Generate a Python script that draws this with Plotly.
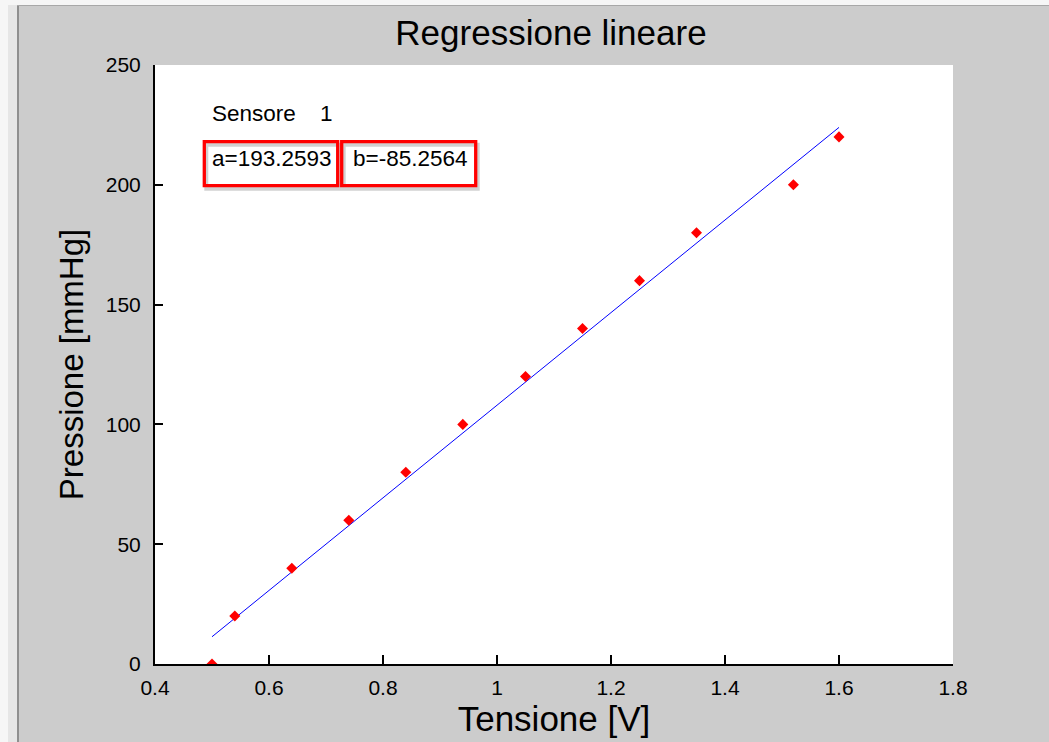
import plotly.graph_objects as go

# ---- data ----
tensione = [0.50, 0.54, 0.64, 0.74, 0.84, 0.94, 1.05, 1.15, 1.25, 1.35, 1.52, 1.60]
pressione = [0, 20, 40, 60, 80, 100, 120, 140, 160, 180, 200, 220]
coef_a = 193.2593
coef_b = -85.2564
sensore = 1
x_ticks = [0.4, 0.6, 0.8, 1.0, 1.2, 1.4, 1.6, 1.8]
y_ticks = [0, 50, 100, 150, 200, 250]

fit_x = [min(tensione), max(tensione)]
fit_y = [coef_a * v + coef_b for v in fit_x]

W, H = 1049, 742
L, R, T, B = 155, 953, 65, 664  # plot area in pixels

def px(x):
    return (x - L) / (R - L)

def py(y):
    return (B - y) / (B - T)

FONT = "Arial, 'Liberation Sans', sans-serif"

fig = go.Figure()
fig.add_trace(go.Scatter(x=fit_x, y=fit_y, mode="lines",
                         line=dict(color="#0000ff", width=1), hoverinfo="skip"))
fig.add_trace(go.Scatter(x=tensione, y=pressione, mode="markers",
                         marker=dict(symbol="diamond", size=8.5, color="#ff0000",
                                     line=dict(width=0))))

shapes = []
# window frame outside the gray figure
shapes.append(dict(type="rect", xref="paper", yref="paper", x0=px(0), x1=px(W), y0=py(0), y1=py(5),
                   fillcolor="#f6f6f6", line=dict(width=0), layer="below"))
shapes.append(dict(type="rect", xref="paper", yref="paper", x0=px(0), x1=px(8), y0=py(0), y1=py(H),
                   fillcolor="#f6f6f6", line=dict(width=0), layer="below"))
shapes.append(dict(type="rect", xref="paper", yref="paper", x0=px(8), x1=px(17), y0=py(5), y1=py(H),
                   fillcolor="#e6e6e6", line=dict(width=0), layer="below"))
shapes.append(dict(type="line", xref="paper", yref="paper", x0=px(18), x1=px(18), y0=py(6), y1=py(H),
                   line=dict(color="#8f8f8f", width=2), layer="below"))
shapes.append(dict(type="line", xref="paper", yref="paper", x0=px(17), x1=px(W), y0=py(5.5), y1=py(5.5),
                   line=dict(color="#a8a8a8", width=1), layer="below"))

# red highlight boxes with soft shadow
boxes = [(204.3, 337.7), (341.7, 475.7)]
by0, by1 = 141.7, 185.7
for (bx0, bx1) in boxes:
    shapes.append(dict(type="rect", xref="paper", yref="paper",
                       x0=px(bx0 + 2), x1=px(bx1 + 2), y0=py(by1 + 3), y1=py(by0 + 3),
                       line=dict(color="rgba(0,0,0,0.18)", width=4)))
for (bx0, bx1) in boxes:
    shapes.append(dict(type="rect", xref="paper", yref="paper",
                       x0=px(bx0), x1=px(bx1), y0=py(by1), y1=py(by0),
                       line=dict(color="#ff0000", width=3.3)))

TXT = dict(family=FONT, size=22.5, color="#000000")
annotations = [
    dict(text="Sensore", x=px(210), y=py(113), xref="paper", yref="paper",
         xanchor="left", yanchor="middle", showarrow=False, font=TXT),
    dict(text=str(sensore), x=px(318), y=py(113), xref="paper", yref="paper",
         xanchor="left", yanchor="middle", showarrow=False, font=TXT),
    dict(text=f"a={coef_a:.4f}", x=px(209.5), y=py(158), xref="paper", yref="paper",
         xanchor="left", yanchor="middle", showarrow=False, font=TXT),
    dict(text=f"b={coef_b:.4f}", x=px(351), y=py(158), xref="paper", yref="paper",
         xanchor="left", yanchor="middle", showarrow=False, font=TXT),
]

fig.update_layout(
    width=W, height=H,
    margin=dict(l=L, r=W - R, t=T, b=H - B, pad=0),
    paper_bgcolor="#cccccc",
    plot_bgcolor="#ffffff",
    showlegend=False,
    title=dict(text="Regressione lineare", x=px(551), xref="paper", xanchor="center",
               y=1 - 32.5 / H, yref="container", yanchor="middle",
               font=dict(family=FONT, size=35, color="#000000")),
    xaxis=dict(range=[0.4, 1.8], tickvals=x_ticks, ticks="inside", ticklen=9, tickwidth=2,
               tickcolor="#000000", showline=True, linecolor="#000000", linewidth=2,
               showgrid=False, zeroline=False, ticklabelstandoff=4,
               tickfont=dict(family=FONT, size=21, color="#000000"),
               title=dict(text="Tensione [V]", standoff=5,
                          font=dict(family=FONT, size=35, color="#000000"))),
    yaxis=dict(range=[0, 250], tickvals=y_ticks, ticks="inside", ticklen=8, tickwidth=2,
               tickcolor="#000000", showline=True, linecolor="#000000", linewidth=2,
               showgrid=False, zeroline=False, ticklabelstandoff=8,
               tickfont=dict(family=FONT, size=21, color="#000000"),
               title=dict(text="Pressione [mmHg]", standoff=12,
                          font=dict(family=FONT, size=33, color="#000000"))),
    shapes=shapes,
    annotations=annotations,
)

fig.write_html("out.html")
